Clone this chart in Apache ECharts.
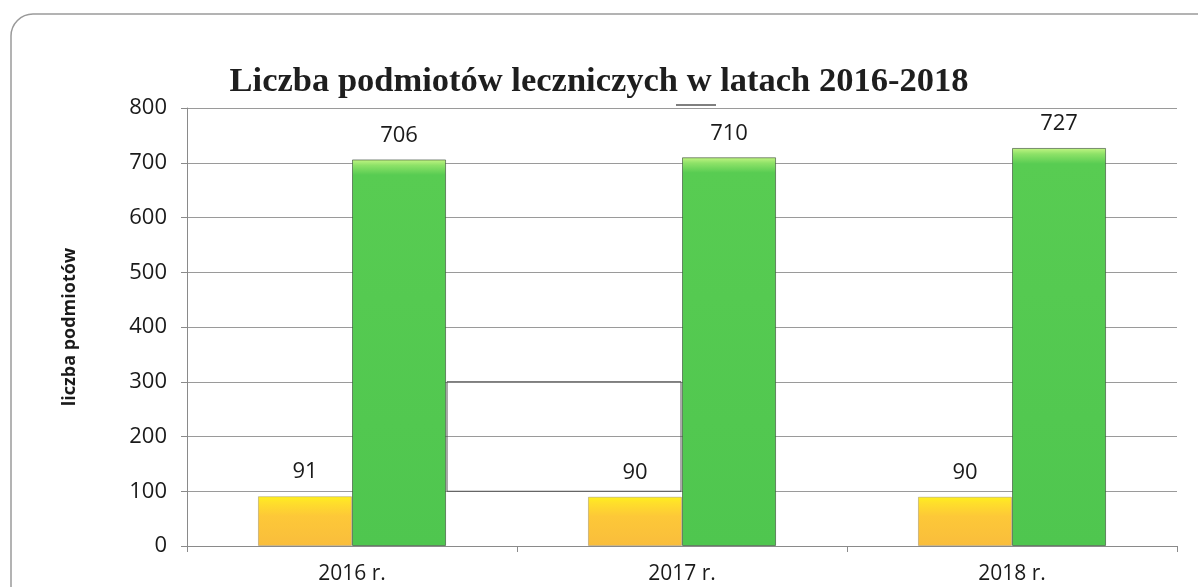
<!DOCTYPE html>
<html>
<head>
<meta charset="utf-8">
<script src="https://cdn.jsdelivr.net/npm/echarts@6/dist/echarts.min.js"></script>
<style>
  html, body { margin: 0; padding: 0; background: #fff; }
  #chart { width: 1198px; height: 587px; }
</style>
</head>
<body>
<div id="chart"></div>
<script>
// Years shown on the category axis
const years = ['2016 r.', '2017 r.', '2018 r.'];
// First series (yellow-orange bars)
const smallValues = [91, 90, 90];
// Second series (green bars)
const largeValues = [706, 710, 727];
// Value axis range
const yMin = 0, yMax = 800, yStep = 100;

const chart = echarts.init(document.getElementById('chart'));

const sansFont = '"Open Sans", "Noto Sans", sans-serif';

const labelStyle = {
  show: true,
  position: 'top',
  distance: 13,
  fontFamily: sansFont,
  fontSize: 22,
  color: '#1a1a1a'
};

chart.setOption({
  animation: false,
  backgroundColor: '#fff',
  title: {
    text: 'Liczba podmiotów leczniczych w latach 2016-2018',
    left: 'center',
    top: 60,
    textStyle: {
      fontFamily: '"Liberation Serif", "DejaVu Serif", serif',
      fontWeight: 'bold',
      fontSize: 34.5,
      color: '#1e1e1e'
    }
  },
  grid: { left: 187, right: 21, top: 108, bottom: 41, containLabel: false },
  xAxis: {
    type: 'category',
    data: years,
    axisLine: { lineStyle: { color: '#8a8a8a', width: 1 } },
    axisTick: { show: true, length: 6, lineStyle: { color: '#8a8a8a' } },
    axisLabel: {
      margin: 18,
      fontFamily: sansFont,
      fontSize: 21,
      color: '#1a1a1a'
    }
  },
  yAxis: {
    type: 'value',
    min: yMin,
    max: yMax,
    interval: yStep,
    name: 'liczba podmiotów',
    nameLocation: 'middle',
    nameGap: 108,
    nameRotate: 90,
    nameTextStyle: {
      fontFamily: sansFont,
      fontWeight: 'bold',
      fontSize: 18,
      color: '#1a1a1a'
    },
    axisLine: { show: true, lineStyle: { color: '#8a8a8a', width: 1 } },
    axisTick: { show: true, length: 6, lineStyle: { color: '#8a8a8a' } },
    axisLabel: {
      margin: 20,
      fontFamily: sansFont,
      fontSize: 22,
      color: '#1a1a1a'
    },
    splitLine: { lineStyle: { color: '#9a9a9a', width: 1 } }
  },
  series: [
    {
      type: 'bar',
      data: smallValues,
      barGap: '0%',
      barCategoryGap: '43%',
      itemStyle: {
        color: new echarts.graphic.LinearGradient(0, 0, 0, 1, [
          { offset: 0, color: '#fff01e' },
          { offset: 0.12, color: '#ffe02a' },
          { offset: 0.4, color: '#fdc838' },
          { offset: 1, color: '#f9bd3c' }
        ]),
        borderColor: 'rgba(120,110,80,0.35)',
        borderWidth: 1
      },
      label: labelStyle
    },
    {
      type: 'bar',
      data: largeValues,
      itemStyle: {
        color: new echarts.graphic.LinearGradient(0, 0, 0, 1, [
          { offset: 0, color: '#c4f584' },
          { offset: 0.015, color: '#8ee268' },
          { offset: 0.04, color: '#58cc52' },
          { offset: 1, color: '#4fc64f' }
        ]),
        borderColor: 'rgba(50,70,50,0.6)',
        borderWidth: 1
      },
      label: labelStyle
    }
  ]
});

// Page frame with a rounded top-left corner, and the thin box between the first two groups
const yTop = chart.convertToPixel({ yAxisIndex: 0 }, 300);
const yBot = chart.convertToPixel({ yAxisIndex: 0 }, 100);
chart.setOption({
  graphic: [
    {
      type: 'rect',
      shape: { x: 11, y: 14, width: 1300, height: 700, r: [22, 0, 0, 0] },
      style: { fill: 'none', stroke: '#9a9a9a', lineWidth: 1.5 },
      silent: true
    },
    {
      type: 'rect',
      shape: { x: 447, y: yTop, width: 234, height: yBot - yTop },
      style: { fill: 'none', stroke: '#555', lineWidth: 1 },
      silent: true,
      z: 0
    },
    {
      type: 'line',
      shape: { x1: 676, y1: 105, x2: 716, y2: 105 },
      style: { stroke: '#555', lineWidth: 1.5 },
      silent: true
    }
  ]
});
</script>
</body>
</html>
